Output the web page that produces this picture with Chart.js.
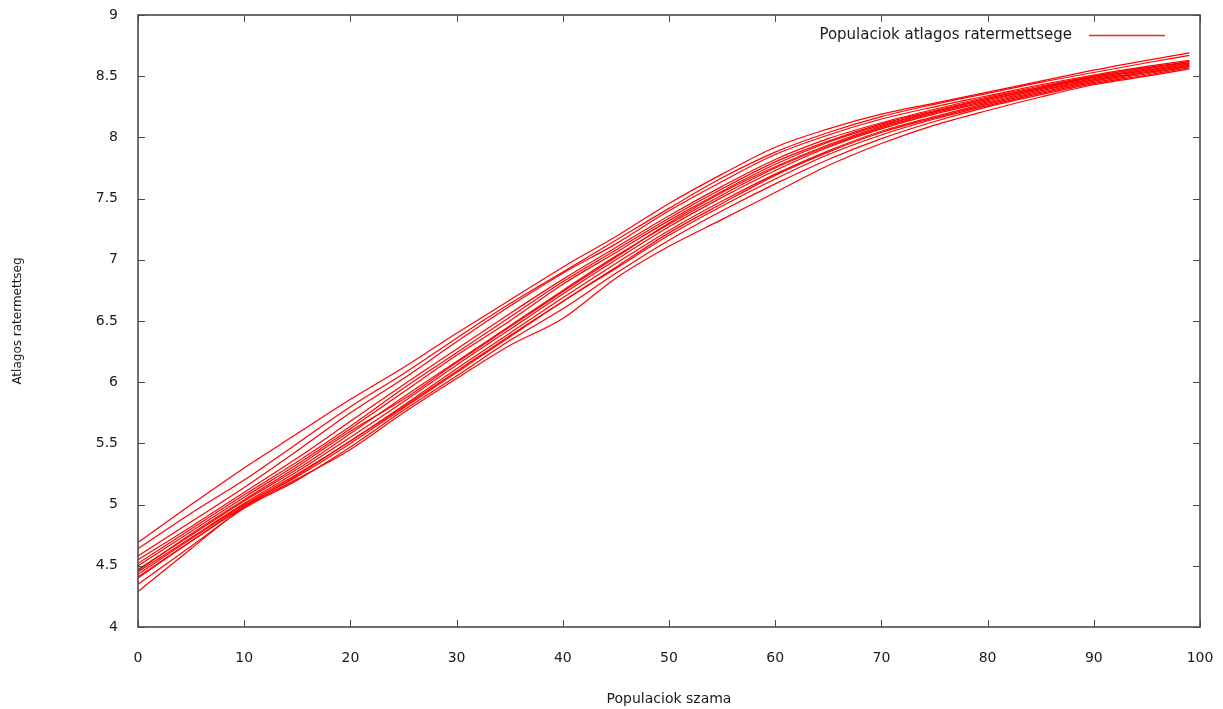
<!DOCTYPE html>
<html><head><meta charset="utf-8">
<script src="https://cdn.jsdelivr.net/npm/chart.js@4/dist/chart.umd.min.js"></script>
<style>html,body{margin:0;padding:0;background:#fff}#wrap{width:1223px;height:709px;position:relative}</style>
</head><body><div id="wrap"><canvas id="c" width="1223" height="709"></canvas></div>
<script>
const xValues = [0,5,10,15,20,25,30,35,40,45,50,55,60,65,70,75,80,85,90,95,99];
const run01 = [4.69,5.00,5.30,5.58,5.86,6.12,6.40,6.67,6.94,7.19,7.46,7.70,7.92,8.07,8.19,8.28,8.37,8.46,8.55,8.63,8.69];
const run02 = [4.64,4.93,5.20,5.50,5.80,6.07,6.36,6.64,6.90,7.16,7.42,7.67,7.88,8.04,8.17,8.27,8.36,8.45,8.53,8.61,8.67];
const run03 = [4.58,4.86,5.14,5.44,5.75,6.03,6.33,6.62,6.89,7.13,7.40,7.64,7.86,8.02,8.15,8.25,8.34,8.43,8.51,8.58,8.63];
const run04 = [4.55,4.82,5.10,5.38,5.68,5.98,6.27,6.56,6.84,7.10,7.36,7.60,7.82,7.99,8.12,8.23,8.33,8.42,8.50,8.57,8.62];
const run05 = [4.50,4.78,5.06,5.33,5.62,5.92,6.22,6.50,6.80,7.06,7.32,7.56,7.78,7.96,8.10,8.21,8.31,8.40,8.49,8.55,8.61];
const run06 = [4.47,4.75,5.03,5.29,5.58,5.88,6.17,6.46,6.75,7.03,7.29,7.53,7.75,7.93,8.08,8.20,8.30,8.40,8.48,8.55,8.60];
const run07 = [4.45,4.73,5.01,5.27,5.55,5.84,6.14,6.43,6.72,7.00,7.27,7.51,7.73,7.92,8.07,8.19,8.29,8.39,8.47,8.54,8.60];
const run08 = [4.43,4.72,5.00,5.25,5.52,5.81,6.11,6.40,6.69,6.97,7.24,7.48,7.70,7.89,8.05,8.17,8.28,8.38,8.47,8.53,8.59];
const run09 = [4.40,4.70,4.99,5.23,5.50,5.79,6.08,6.37,6.66,6.94,7.22,7.46,7.69,7.88,8.04,8.16,8.27,8.37,8.46,8.53,8.58];
const run10 = [4.35,4.66,4.97,5.20,5.47,5.77,6.05,6.34,6.60,6.89,7.16,7.40,7.62,7.82,7.99,8.13,8.25,8.35,8.44,8.51,8.57];
const run11 = [4.29,4.64,4.98,5.24,5.52,5.80,6.09,6.38,6.66,6.93,7.20,7.44,7.66,7.86,8.02,8.15,8.26,8.36,8.45,8.52,8.58];
const run12 = [4.41,4.70,4.98,5.21,5.45,5.75,6.03,6.30,6.52,6.85,7.11,7.33,7.55,7.77,7.95,8.10,8.22,8.33,8.43,8.50,8.56];
const run13 = [4.46,4.76,5.04,5.31,5.60,5.86,6.16,6.45,6.74,7.02,7.30,7.55,7.76,7.94,8.09,8.21,8.32,8.41,8.49,8.56,8.62];
const run14 = [4.52,4.80,5.08,5.35,5.64,5.95,6.24,6.53,6.82,7.08,7.34,7.58,7.80,7.97,8.11,8.22,8.32,8.41,8.50,8.57,8.61];
const runs = [run01,run02,run03,run04,run05,run06,run07,run08,run09,run10,run11,run12,run13,run14];
const xTicks = [0,10,20,30,40,50,60,70,80,90,100];
const yTicks = [4,4.5,5,5.5,6,6.5,7,7.5,8,8.5,9];
const legendLabel = "Populaciok atlagos ratermettsege";
const xTitle = "Populaciok szama";
const yTitle = "Atlagos ratermettseg";

const FONT = "'DejaVu Sans', 'Liberation Sans', sans-serif";
const TXT = '#1a1a1a';

const zeroPad = s => { s.paddingTop = 0; s.paddingBottom = 0; s.paddingLeft = 0; s.paddingRight = 0; };

const framePlugin = {
  id: 'frame',
  afterDatasetsDraw(chart) {
    const {ctx, chartArea: {left, right, top, bottom}, scales: {x, y}} = chart;
    ctx.save();
    ctx.strokeStyle = '#4a4a4a';
    ctx.lineWidth = 1.6;
    ctx.strokeRect(left, top, right - left, bottom - top);
    ctx.lineWidth = 1;
    const seg = (a, b, c, d) => { ctx.beginPath(); ctx.moveTo(a, b); ctx.lineTo(c, d); ctx.stroke(); };
    xTicks.forEach(v => { const px = Math.round(x.getPixelForValue(v)) + 0.5; seg(px, bottom, px, bottom - 7); seg(px, top, px, top + 7); });
    yTicks.forEach(v => { const py = Math.round(y.getPixelForValue(v)) + 0.5; seg(left, py, left + 7, py); seg(right, py, right - 7, py); });
    ctx.font = '15px ' + FONT;
    ctx.fillStyle = TXT;
    ctx.textAlign = 'right';
    ctx.textBaseline = 'middle';
    ctx.fillText(legendLabel, 1072, 35);
    ctx.strokeStyle = '#ff2020';
    ctx.lineWidth = 1.3;
    seg(1089, 35.5, 1165, 35.5);
    ctx.restore();
  }
};

new Chart(document.getElementById('c'), {
  type: 'line',
  data: {
    datasets: runs.map((r, i) => ({
      label: i === 0 ? legendLabel : legendLabel + ' ' + (i + 1),
      data: r.map((v, j) => ({x: xValues[j], y: v})),
      borderColor: '#ff0000',
      borderWidth: 1.2,
      pointRadius: 0,
      cubicInterpolationMode: 'monotone',
      fill: false
    }))
  },
  options: {
    responsive: false,
    animation: false,
    devicePixelRatio: 1,
    layout: {padding: {top: 15, right: 23, left: 0, bottom: 0}},
    plugins: {legend: {display: false}, tooltip: {enabled: false}},
    scales: {
      x: {
        type: 'linear', min: 0, max: 100,
        afterFit: s => { s.height = 82; zeroPad(s); },
        afterBuildTicks: s => { s.ticks = xTicks.map(v => ({value: v})); },
        grid: {display: false, drawTicks: false},
        border: {display: false},
        ticks: {padding: 23, color: TXT, font: {size: 14, family: FONT}, maxRotation: 0, callback: v => String(v)},
        title: {display: true, text: xTitle, color: TXT, font: {size: 14, family: FONT}, padding: {top: 0, bottom: 1}}
      },
      y: {
        type: 'linear', min: 4, max: 9,
        afterFit: s => { s.width = 138; zeroPad(s); },
        afterBuildTicks: s => { s.ticks = yTicks.map(v => ({value: v})); },
        grid: {display: false, drawTicks: false},
        border: {display: false},
        ticks: {padding: 20, color: TXT, font: {size: 14, family: FONT}, callback: v => String(v)},
        title: {display: true, text: yTitle, color: TXT, font: {size: 12, family: FONT}, padding: {top: 11, bottom: 0}}
      }
    }
  },
  plugins: [framePlugin]
});
</script></body></html>
